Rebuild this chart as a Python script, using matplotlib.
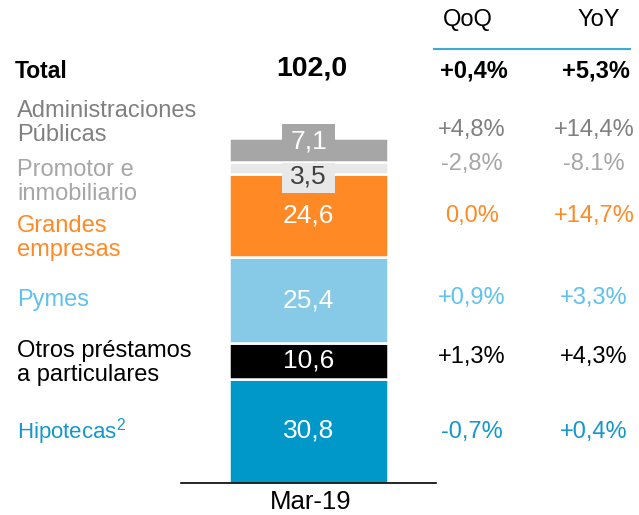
import matplotlib.pyplot as plt

plt.rcParams['font.family'] = ['Liberation Sans', 'DejaVu Sans']
plt.rcParams['mathtext.fontset'] = 'custom'
plt.rcParams['mathtext.rm'] = 'Liberation Sans'
plt.rcParams['mathtext.it'] = 'Liberation Sans'

# Data (bottom to top of the stack)
segments = ["Hipotecas", "Otros", "Pymes", "Grandes", "Promotor", "Admin"]
values = [30.8, 10.6, 25.4, 24.6, 3.5, 7.1]
value_labels = ["30,8", "10,6", "25,4", "24,6", "3,5", "7,1"]
left_labels = ["Hipotecas$^{\\mathrm{2}}$", "Otros préstamos\na particulares", "Pymes",
               "Grandes\nempresas", "Promotor e\ninmobiliario", "Administraciones\nPúblicas"]
qoq = ["-0,7%", "+1,3%", "+0,9%", "0,0%", "-2,8%", "+4,8%"]
yoy = ["+0,4%", "+4,3%", "+3,3%", "+14,7%", "-8.1%", "+14,4%"]
total = "102,0"
total_qoq = "+0,4%"
total_yoy = "+5,3%"
period = "Mar-19"

bar_colors = ["#0098C8", "#000000", "#87CAE8", "#FF8A25", "#E8E8E8", "#A6A6A6"]
text_colors = ["#1497CB", "#000000", "#5EC1F0", "#FF8A25", "#A6A6A6", "#808080"]
value_colors = ["white", "white", "white", "white", "#404040", "white"]

# pixel layout helpers
W, H = 639, 515
def fx(px):
    return px / W
def fy(py):
    return 1 - py / H

fig = plt.figure(figsize=(W / 100, H / 100), dpi=100)
ax = fig.add_axes([fx(181), fy(483), (436 - 181) / W, (483 - 138) / H])
ax.set_xlim(-0.5, 0.5)
ax.set_ylim(0, sum(values))

bottom = 0
for i, v in enumerate(values):
    ax.bar(0, v, width=0.622, bottom=bottom, color=bar_colors[i],
           edgecolor="white", linewidth=1.8, zorder=2)
    mid = bottom + v / 2
    if i == 5:
        # label box sticking out above the top segment
        ax.bar(0, v + 4.1 - 0.35, width=0.21, bottom=bottom + 0.35, color=bar_colors[i],
               linewidth=0, zorder=3)
        ax.text(0, mid + 2.4, value_labels[i], ha="center", va="center", fontsize=19,
                color=value_colors[i], zorder=4, clip_on=False)
    elif i == 4:
        # label box hanging down into the segment below
        ax.bar(0, 9.2 - 0.35, width=0.21, bottom=bottom + v - 9.2, color=bar_colors[i],
               linewidth=0, zorder=3)
        ax.text(0, mid - 2.6, value_labels[i], ha="center", va="center", fontsize=19,
                color=value_colors[i], zorder=4)
    else:
        ax.text(0, mid, value_labels[i], ha="center", va="center", fontsize=19,
                color=value_colors[i], zorder=3)
    bottom += v

for b in ax.patches:
    b.set_clip_on(False)

for s in ["top", "left", "right"]:
    ax.spines[s].set_visible(False)
ax.spines["bottom"].set_linewidth(1.2)
ax.set_xticks([])
ax.set_yticks([])
fig.text(fx(311), fy(502), period, ha="center", va="center", fontsize=18.5)

# left labels and right-hand columns (vertical positions in pixels)
left_y = [432, 363, 300, 238, 182, 123]
right_y = [432, 357, 298, 216, 164, 130]
left_size = [16, 17, 17, 17, 17, 17]
for i in range(len(segments)):
    fig.text(fx(17), fy(left_y[i]), left_labels[i], ha="left", va="center",
             fontsize=left_size[i], color=text_colors[i], linespacing=1.12)
    fig.text(fx(472), fy(right_y[i]), qoq[i], ha="center", va="center",
             fontsize=17, color=text_colors[i])
    fig.text(fx(594), fy(right_y[i]), yoy[i], ha="center", va="center",
             fontsize=17, color=text_colors[i])

# header
fig.text(fx(468), fy(20), "QoQ", ha="center", va="center", fontsize=17)
fig.text(fx(599), fy(20), "YoY", ha="center", va="center", fontsize=17)
fig.add_artist(plt.Line2D([fx(434), fx(630)], [fy(49), fy(49)], color="#3AAAD8",
                          linewidth=1.5, transform=fig.transFigure))

# total row
fig.text(fx(15), fy(71), "Total", ha="left", va="center", fontsize=16.5, fontweight="bold")
fig.text(fx(312), fy(69), total, ha="center", va="center", fontsize=20.5, fontweight="bold")
fig.text(fx(474), fy(71), total_qoq, ha="center", va="center", fontsize=17, fontweight="bold")
fig.text(fx(596), fy(71), total_yoy, ha="center", va="center", fontsize=17, fontweight="bold")

fig.savefig("out.png", dpi=100)
